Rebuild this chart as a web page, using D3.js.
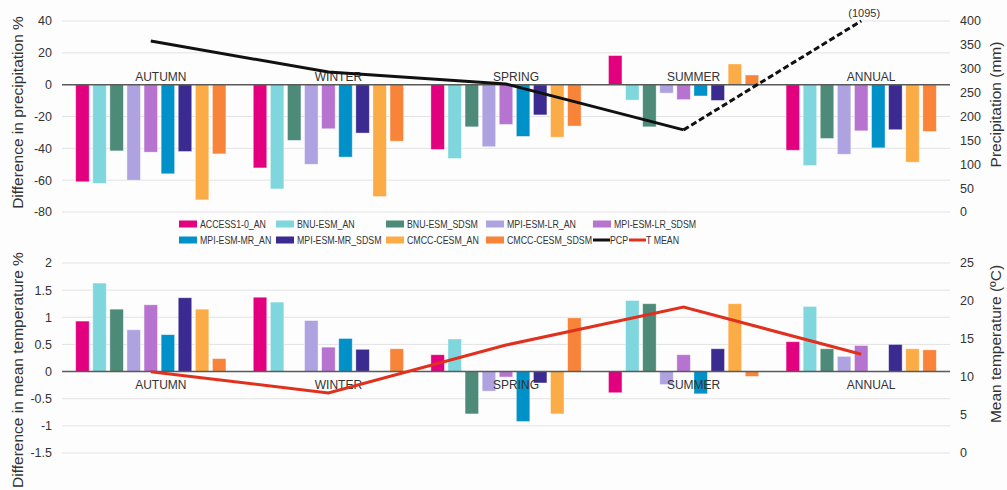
<!DOCTYPE html>
<html>
<head>
<meta charset="utf-8">
<script src="https://cdn.jsdelivr.net/npm/d3@7"></script>
<style>
  html, body { margin: 0; padding: 0; background: #fdfdfd; }
  svg text { font-family: 'Liberation Sans', Arial, sans-serif; fill: #333; }
</style>
</head>
<body>
<div id="chart"></div>
<script>
const seasons = ['AUTUMN', 'WINTER', 'SPRING', 'SUMMER', 'ANNUAL']
const models = [
  'ACCESS1-0_AN', 'BNU-ESM_AN', 'BNU-ESM_SDSM', 'MPI-ESM-LR_AN', 'MPI-ESM-LR_SDSM',
  'MPI-ESM-MR_AN', 'MPI-ESM-MR_SDSM', 'CMCC-CESM_AN', 'CMCC-CESM_SDSM',
]
const modelColors = [
  '#e2007e', '#7fd6dd', '#4e8a78', '#afa2e0', '#b673cf',
  '#0091c8', '#3b2a90', '#fcac46', '#f88439',
]

// difference in precipitation (%), one row per season, one value per model
const precipDiff = [
  [-61, -62, -41.6, -60, -42.4, -56, -42, -72.4, -43.5],
  [-52.3, -65.5, -35, -50, -27.7, -45.5, -30.4, -70.3, -35.5],
  [-40.7, -46.4, -26.5, -39, -25, -32.5, -19, -33, -26],
  [18.3, -9.7, -26.5, -5.3, -9.4, -7.1, -9.9, 13, 6.1],
  [-41.2, -50.8, -33.8, -43.7, -29, -39.7, -28.3, -48.7, -29.4],
]
// difference in mean temperature (%)
const tempDiff = [
  [0.93, 1.63, 1.15, 0.77, 1.23, 0.68, 1.36, 1.15, 0.24],
  [1.37, 1.28, 0, 0.94, 0.45, 0.61, 0.41, 0, 0.42],
  [0.31, 0.6, -0.78, -0.36, -0.1, -0.92, -0.21, -0.78, 0.99],
  [-0.39, 1.31, 1.25, -0.24, 0.31, -0.41, 0.42, 1.25, -0.09],
  [0.55, 1.2, 0.42, 0.28, 0.48, 0.01, 0.5, 0.42, 0.4],
]
// observed precipitation (mm) and mean temperature (C)
const pcpTotals = [358, 293, 268, 172, 1095]
const pcpAxisMax = 400
const tMean = [10.7, 7.9, 14.2, 19.2, 13.0]

const precipTicks = [40, 20, 0, -20, -40, -60, -80]
const pcpTicks = [0, 50, 100, 150, 200, 250, 300, 350, 400]
const tempTicks = [2, 1.5, 1, 0.5, 0, -0.5, -1, -1.5]
const tMeanTicks = [0, 5, 10, 15, 20, 25]

const width = 1007
const height = 490
const plotLeft = 62
const plotRight = 950

const svg = d3.select('#chart').append('svg')
  .attr('width', width).attr('height', height)
  .attr('viewBox', `0 0 ${width} ${height}`)

const x0 = d3.scaleBand().domain(seasons).range([plotLeft, plotRight])
const x1 = d3.scaleBand().domain(models).range([0, x0.bandwidth()])
  .paddingInner(0.21).paddingOuter(0.8)
const cx = s => x0(s) + x0.bandwidth() / 2

function panel({ top, bottom, yDomain, leftTicks, rightDomain, rightTicks, values, leftTitle, rightTitle, labelAbove }) {
  const y = d3.scaleLinear().domain(yDomain).range([bottom, top])
  const yR = d3.scaleLinear().domain(rightDomain).range([bottom, top])
  const g = svg.append('g')

  g.append('g').selectAll('line').data(leftTicks).join('line')
    .attr('x1', plotLeft).attr('x2', plotRight)
    .attr('y1', d => y(d)).attr('y2', d => y(d))
    .attr('stroke', '#e3e3e3').attr('stroke-width', 1)

  g.append('g').selectAll('text').data(leftTicks).join('text')
    .attr('x', 52).attr('y', d => y(d)).attr('dy', '0.35em')
    .attr('text-anchor', 'end').style('font-size', '12.5px')
    .text(d => d)

  g.append('g').selectAll('text').data(rightTicks).join('text')
    .attr('x', 960).attr('y', d => yR(d)).attr('dy', '0.35em')
    .style('font-size', '12.5px')
    .text(d => d)

  const groups = g.append('g').selectAll('g').data(seasons).join('g')
    .attr('transform', s => `translate(${x0(s)},0)`)
  groups.selectAll('rect')
    .data((s, i) => values[i].map((v, j) => ({ model: models[j], v, color: modelColors[j] })))
    .join('rect')
    .attr('x', d => x1(d.model))
    .attr('width', x1.bandwidth())
    .attr('y', d => y(Math.max(0, d.v)))
    .attr('height', d => Math.abs(y(d.v) - y(0)))
    .attr('fill', d => d.color)
    .attr('stroke', 'rgba(255,255,255,0.5)').attr('stroke-width', 0.8)

  g.append('line')
    .attr('x1', plotLeft).attr('x2', plotRight)
    .attr('y1', y(0)).attr('y2', y(0))
    .attr('stroke', '#5a5a5a').attr('stroke-width', 1.5)

  g.append('g').selectAll('text').data(seasons).join('text')
    .attr('x', s => cx(s) + 10)
    .attr('y', labelAbove ? y(0) - 8 : y(0) + 13)
    .attr('dy', '0.35em')
    .attr('text-anchor', 'middle').style('font-size', '12px')
    .text(s => s)

  g.append('text')
    .attr('transform', `translate(18,${(top + bottom) / 2 + leftTitle.dy}) rotate(-90)`)
    .attr('text-anchor', 'middle').attr('dy', '0.35em')
    .style('font-size', '15.5px')
    .text(leftTitle.text)

  g.append('text')
    .attr('transform', `translate(996,${(top + bottom) / 2 + rightTitle.dy}) rotate(-90)`)
    .attr('text-anchor', 'middle').attr('dy', '0.35em')
    .style('font-size', '15.5px')
    .text(rightTitle.text)

  return { y, yR }
}

// precipitation panel
const pcpPanel = panel({
  top: 21, bottom: 212,
  yDomain: [-80, 40], leftTicks: precipTicks,
  rightDomain: [0, 400], rightTicks: pcpTicks,
  values: precipDiff,
  leftTitle: { text: 'Difference in precipitation %', dy: -4 },
  rightTitle: { text: 'Precipitation (mm)', dy: -12 },
  labelAbove: true,
})

const pcpPts = seasons.map((s, i) => [cx(s), pcpPanel.yR(Math.min(pcpTotals[i], pcpAxisMax))])
const line = d3.line()
svg.append('path')
  .attr('d', line(pcpPts.slice(0, 4)))
  .attr('fill', 'none').attr('stroke', '#111').attr('stroke-width', 3)
svg.append('path')
  .attr('d', line(pcpPts.slice(3)))
  .attr('fill', 'none').attr('stroke', '#111').attr('stroke-width', 3)
  .attr('stroke-dasharray', '6,3')
svg.append('text')
  .attr('x', pcpPts[4][0] + 3).attr('y', pcpPts[4][1] - 8)
  .attr('dy', '0.35em')
  .attr('text-anchor', 'middle').style('font-size', '11px')
  .text(`(${pcpTotals[4]})`)

// temperature panel
const tempPanel = panel({
  top: 263, bottom: 453,
  yDomain: [-1.5, 2], leftTicks: tempTicks,
  rightDomain: [0, 25], rightTicks: tMeanTicks,
  values: tempDiff,
  leftTitle: { text: 'Difference in mean temperature %', dy: 12 },
  rightTitle: { text: 'Mean temperature (ºC)', dy: -14 },
  labelAbove: false,
})

svg.append('path')
  .attr('d', line(seasons.map((s, i) => [cx(s), tempPanel.yR(tMean[i])])))
  .attr('fill', 'none').attr('stroke', '#e0301e').attr('stroke-width', 3)

// legend
const legendItems = models.map((m, i) => ({ label: m, color: modelColors[i], type: 'rect' }))
  .concat([{ label: 'PCP', color: '#111', type: 'line' }, { label: 'T MEAN', color: '#e0301e', type: 'line' }])
const colX = [179, 276, 386, 486, 593, 629]
const rowY = [224, 240]
const legend = svg.append('g')
legendItems.forEach((d, i) => {
  const x = i < 10 ? colX[i % 5] : colX[5]
  const yy = i < 5 ? rowY[0] : rowY[1]
  const item = legend.append('g').attr('transform', `translate(${x},${yy})`)
  if (d.type === 'rect') {
    item.append('rect').attr('x', 0).attr('y', -3.5).attr('width', 18).attr('height', 7).attr('fill', d.color)
  } else {
    item.append('line').attr('x1', 0).attr('x2', 17).attr('stroke', d.color).attr('stroke-width', 3)
  }
  item.append('text')
    .attr('transform', `translate(${d.type === 'rect' ? 21 : 17},0) scale(0.8,1)`)
    .attr('dy', '0.35em')
    .style('font-size', '11px').text(d.label)
})
</script>
</body>
</html>
